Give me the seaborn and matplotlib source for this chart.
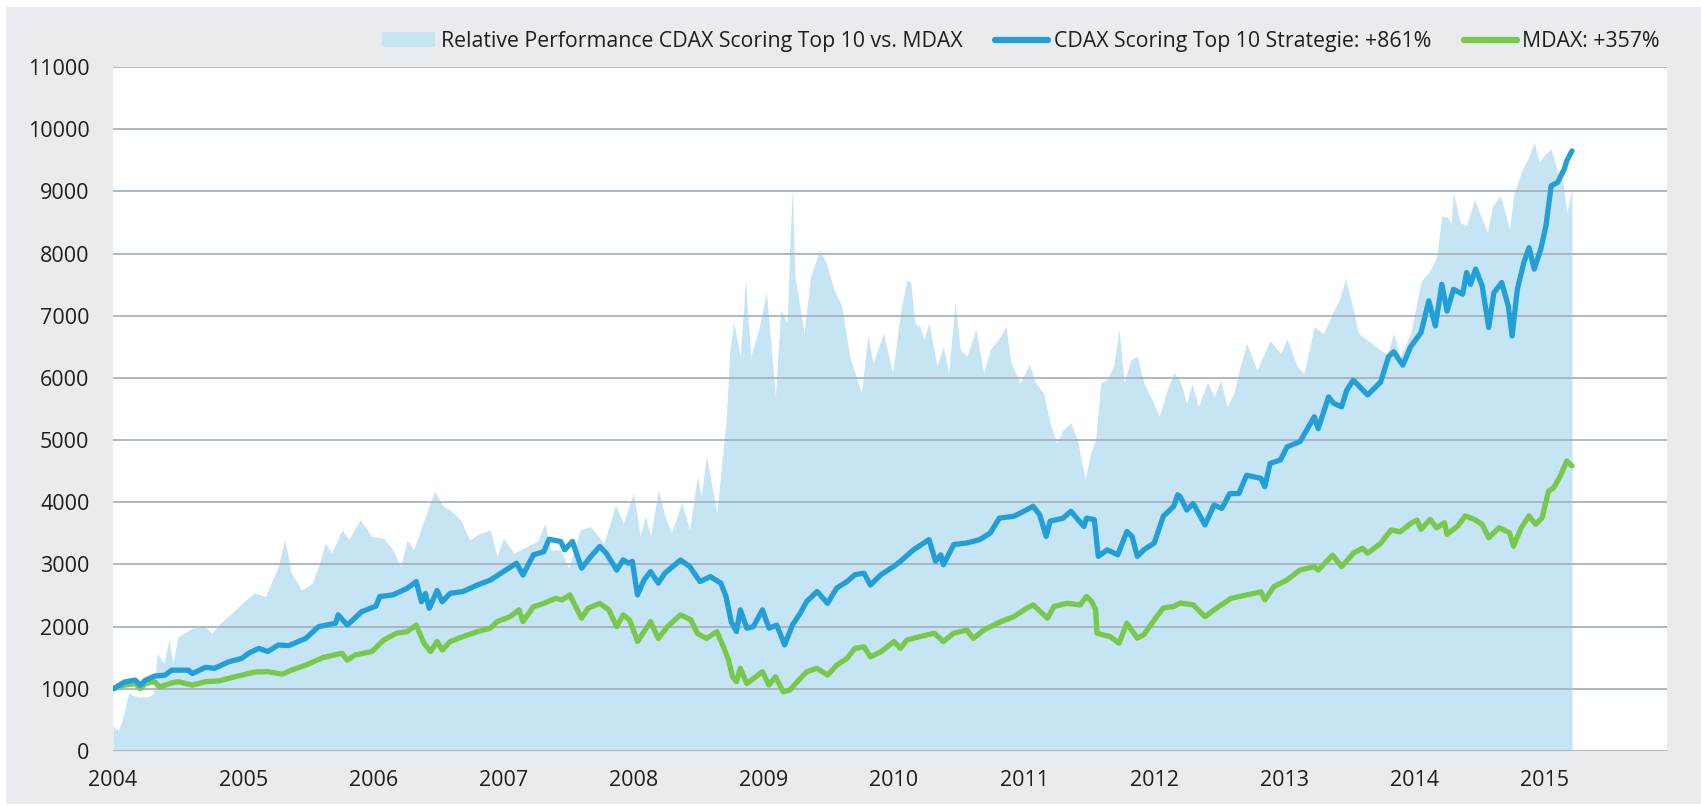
"""
CDAX Scoring Top 10 vs. MDAX - Performancechart
"""
import numpy as np
import pandas as pd
import matplotlib
matplotlib.use('Agg')
import matplotlib.pyplot as plt
from matplotlib.patches import Patch, Rectangle
from matplotlib.lines import Line2D
import seaborn as sns

rel_years = [2004.00, 2004.04, 2004.07, 2004.12, 2004.19, 2004.27, 2004.31, 2004.34, 2004.39, 2004.43,
             2004.46, 2004.50, 2004.61, 2004.71, 2004.76, 2004.81, 2004.91, 2005.02, 2005.09, 2005.17,
             2005.27, 2005.32, 2005.37, 2005.45, 2005.53, 2005.58, 2005.63, 2005.68, 2005.76, 2005.81,
             2005.90, 2005.99, 2006.08, 2006.15, 2006.21, 2006.26, 2006.31, 2006.39, 2006.47, 2006.54,
             2006.59, 2006.67, 2006.74, 2006.82, 2006.90, 2006.95, 2007.00, 2007.08, 2007.18, 2007.26,
             2007.32, 2007.36, 2007.44, 2007.50, 2007.59, 2007.67, 2007.77, 2007.82, 2007.86, 2007.92,
             2008.00, 2008.05, 2008.09, 2008.13, 2008.19, 2008.24, 2008.29, 2008.37, 2008.43, 2008.49,
             2008.52, 2008.56, 2008.64, 2008.68, 2008.71, 2008.74, 2008.77, 2008.82, 2008.86, 2008.90,
             2008.96, 2009.02, 2009.09, 2009.13, 2009.18, 2009.20, 2009.22, 2009.24, 2009.31, 2009.36,
             2009.43, 2009.48, 2009.54, 2009.60, 2009.66, 2009.75, 2009.80, 2009.84, 2009.92, 2009.99,
             2010.05, 2010.10, 2010.13, 2010.16, 2010.20, 2010.23, 2010.27, 2010.33, 2010.38, 2010.42,
             2010.47, 2010.51, 2010.56, 2010.63, 2010.69, 2010.74, 2010.82, 2010.86, 2010.90, 2010.97,
             2011.04, 2011.09, 2011.15, 2011.20, 2011.25, 2011.30, 2011.36, 2011.41, 2011.47, 2011.51,
             2011.55, 2011.59, 2011.64, 2011.69, 2011.73, 2011.77, 2011.82, 2011.87, 2011.92, 2011.97,
             2012.04, 2012.10, 2012.15, 2012.20, 2012.25, 2012.29, 2012.34, 2012.41, 2012.46, 2012.51,
             2012.56, 2012.61, 2012.66, 2012.71, 2012.79, 2012.89, 2012.97, 2013.02, 2013.10, 2013.15,
             2013.23, 2013.30, 2013.37, 2013.42, 2013.47, 2013.53, 2013.57, 2013.64, 2013.74, 2013.79,
             2013.84, 2013.89, 2013.97, 2014.05, 2014.12, 2014.17, 2014.21, 2014.25, 2014.28, 2014.30,
             2014.35, 2014.40, 2014.46, 2014.51, 2014.56, 2014.60, 2014.66, 2014.73, 2014.76, 2014.82,
             2014.87, 2014.92, 2014.96, 2014.99, 2015.05, 2015.10, 2015.14, 2015.17, 2015.21]
rel_values = [400, 330, 495, 925, 870, 870, 925, 1570, 1410, 1785,
              1410, 1840, 1975, 2000, 1890, 2025, 2215, 2430, 2540, 2485,
              2970, 3400, 2860, 2590, 2700, 2970, 3345, 3185, 3560, 3400,
              3720, 3450, 3420, 3235, 2965, 3395, 3235, 3715, 4175, 3930,
              3880, 3715, 3395, 3500, 3555, 3125, 3420, 3180, 3290, 3370,
              3665, 3235, 3235, 2940, 3555, 3610, 3340, 3665, 3960, 3665,
              4145, 3455, 3775, 3455, 4205, 3775, 3510, 3990, 3560, 4420,
              4100, 4740, 3830, 4690, 5275, 6455, 6885, 6350, 7580, 6350,
              6775, 7365, 5705, 7095, 6885, 8170, 9050, 7635, 6720, 7635,
              8060, 7845, 7420, 7150, 6350, 5760, 6670, 6240, 6720, 6080,
              7045, 7580, 7530, 6885, 6830, 6615, 6885, 6190, 6510, 6080,
              7205, 6455, 6350, 6780, 6080, 6455, 6670, 6830, 6240, 5920,
              6215, 5920, 5760, 5275, 4955, 5170, 5275, 5005, 4365, 4795,
              5005, 5920, 5975, 6215, 6780, 5920, 6295, 6350, 5920, 5705,
              5385, 5810, 6080, 5950, 5590, 5910, 5535, 5935, 5695, 5965,
              5535, 5750, 6180, 6555, 6125, 6605, 6390, 6635, 6180, 6070,
              6820, 6715, 7035, 7250, 7595, 7090, 6715, 6605, 6445, 6390,
              6715, 6340, 6715, 7550, 7730, 7945, 8605, 8590, 8500, 8980,
              8500, 8445, 8875, 8605, 8340, 8765, 8930, 8390, 8930, 9305,
              9520, 9785, 9465, 9570, 9680, 9305, 9145, 8660, 9035]

cdax_years = [2004.00, 2004.09, 2004.17, 2004.21, 2004.25, 2004.32, 2004.40, 2004.45, 2004.58, 2004.61,
              2004.71, 2004.78, 2004.89, 2004.99, 2005.04, 2005.12, 2005.19, 2005.27, 2005.35, 2005.48,
              2005.58, 2005.71, 2005.73, 2005.80, 2005.91, 2006.02, 2006.05, 2006.15, 2006.26, 2006.33,
              2006.37, 2006.40, 2006.43, 2006.49, 2006.53, 2006.59, 2006.69, 2006.80, 2006.90, 2007.00,
              2007.10, 2007.15, 2007.23, 2007.31, 2007.35, 2007.44, 2007.47, 2007.53, 2007.60, 2007.67,
              2007.74, 2007.79, 2007.87, 2007.92, 2007.96, 2007.99, 2008.03, 2008.08, 2008.13, 2008.19,
              2008.24, 2008.36, 2008.43, 2008.51, 2008.59, 2008.67, 2008.71, 2008.75, 2008.79, 2008.82,
              2008.87, 2008.92, 2008.99, 2009.04, 2009.10, 2009.16, 2009.22, 2009.28, 2009.33, 2009.41,
              2009.49, 2009.56, 2009.64, 2009.70, 2009.77, 2009.82, 2009.90, 2010.00, 2010.05, 2010.15,
              2010.27, 2010.32, 2010.36, 2010.38, 2010.46, 2010.56, 2010.66, 2010.74, 2010.81, 2010.92,
              2010.97, 2011.07, 2011.12, 2011.17, 2011.20, 2011.30, 2011.36, 2011.46, 2011.48, 2011.54,
              2011.57, 2011.64, 2011.72, 2011.79, 2011.83, 2011.87, 2011.92, 2012.00, 2012.07, 2012.15,
              2012.18, 2012.20, 2012.25, 2012.30, 2012.39, 2012.46, 2012.52, 2012.58, 2012.65, 2012.71,
              2012.82, 2012.85, 2012.89, 2012.97, 2013.02, 2013.12, 2013.23, 2013.26, 2013.34, 2013.38,
              2013.44, 2013.48, 2013.53, 2013.64, 2013.74, 2013.80, 2013.84, 2013.91, 2013.97, 2014.05,
              2014.11, 2014.16, 2014.21, 2014.25, 2014.30, 2014.37, 2014.40, 2014.43, 2014.47, 2014.52,
              2014.57, 2014.61, 2014.67, 2014.72, 2014.75, 2014.79, 2014.84, 2014.88, 2014.92, 2014.97,
              2015.01, 2015.05, 2015.10, 2015.15, 2015.17, 2015.21]
cdax_values = [1000, 1110, 1140, 1060, 1140, 1205, 1220, 1300, 1300, 1245,
               1345, 1330, 1435, 1490, 1570, 1650, 1600, 1705, 1695, 1810,
               2000, 2055, 2190, 2025, 2240, 2330, 2485, 2510, 2615, 2725,
               2400, 2535, 2295, 2580, 2400, 2535, 2565, 2670, 2750, 2885,
               3020, 2830, 3155, 3205, 3405, 3370, 3235, 3370, 2940, 3125,
               3290, 3180, 2910, 3075, 3020, 3050, 2510, 2750, 2885, 2700,
               2860, 3070, 2970, 2725, 2805, 2700, 2485, 2080, 1920, 2270,
               1975, 2000, 2270, 1975, 2025, 1705, 2025, 2215, 2405, 2565,
               2375, 2620, 2725, 2835, 2860, 2670, 2835, 2970, 3050, 3235,
               3400, 3050, 3155, 2995, 3320, 3345, 3400, 3505, 3745, 3775,
               3825, 3935, 3800, 3450, 3695, 3745, 3855, 3610, 3745, 3720,
               3130, 3235, 3155, 3530, 3450, 3130, 3235, 3345, 3775, 3935,
               4120, 4090, 3875, 3980, 3635, 3955, 3900, 4140, 4140, 4435,
               4385, 4250, 4625, 4680, 4890, 4975, 5375, 5185, 5695, 5590,
               5535, 5805, 5965, 5725, 5935, 6340, 6420, 6205, 6500, 6730,
               7240, 6835, 7505, 7075, 7425, 7345, 7695, 7505, 7750, 7480,
               6810, 7370, 7535, 7160, 6675, 7425, 7855, 8095, 7750, 8070,
               8445, 9090, 9145, 9355, 9490, 9650]

mdax_years = [2004.00, 2004.09, 2004.17, 2004.21, 2004.25, 2004.32, 2004.36, 2004.45, 2004.50, 2004.61,
              2004.71, 2004.81, 2004.96, 2005.09, 2005.19, 2005.30, 2005.37, 2005.48, 2005.61, 2005.73,
              2005.76, 2005.80, 2005.86, 2005.99, 2006.08, 2006.18, 2006.26, 2006.33, 2006.39, 2006.44,
              2006.49, 2006.53, 2006.59, 2006.69, 2006.80, 2006.90, 2006.95, 2007.05, 2007.12, 2007.15,
              2007.23, 2007.31, 2007.40, 2007.45, 2007.51, 2007.60, 2007.65, 2007.74, 2007.81, 2007.87,
              2007.92, 2007.97, 2008.03, 2008.13, 2008.19, 2008.26, 2008.36, 2008.44, 2008.49, 2008.56,
              2008.64, 2008.69, 2008.73, 2008.76, 2008.79, 2008.82, 2008.87, 2008.92, 2008.99, 2009.04,
              2009.09, 2009.15, 2009.20, 2009.28, 2009.33, 2009.41, 2009.49, 2009.56, 2009.64, 2009.70,
              2009.77, 2009.82, 2009.90, 2010.00, 2010.05, 2010.10, 2010.20, 2010.31, 2010.38, 2010.46,
              2010.56, 2010.61, 2010.69, 2010.82, 2010.92, 2011.02, 2011.07, 2011.18, 2011.23, 2011.33,
              2011.43, 2011.48, 2011.52, 2011.55, 2011.56, 2011.66, 2011.73, 2011.79, 2011.87, 2011.92,
              2012.02, 2012.07, 2012.15, 2012.20, 2012.30, 2012.39, 2012.46, 2012.59, 2012.71, 2012.82,
              2012.85, 2012.92, 2013.02, 2013.12, 2013.23, 2013.26, 2013.37, 2013.44, 2013.53, 2013.60,
              2013.64, 2013.74, 2013.82, 2013.89, 2013.97, 2014.02, 2014.05, 2014.12, 2014.17, 2014.23,
              2014.25, 2014.33, 2014.39, 2014.46, 2014.52, 2014.57, 2014.65, 2014.73, 2014.76, 2014.82,
              2014.88, 2014.93, 2014.98, 2015.03, 2015.07, 2015.12, 2015.17, 2015.21]
mdax_values = [1000, 1060, 1085, 1005, 1085, 1115, 1030, 1095, 1115, 1060,
               1115, 1125, 1205, 1270, 1275, 1235, 1300, 1380, 1500, 1560,
               1570, 1460, 1545, 1600, 1785, 1895, 1920, 2025, 1730, 1600,
               1760, 1625, 1760, 1840, 1920, 1975, 2080, 2160, 2270, 2080,
               2320, 2375, 2455, 2430, 2510, 2135, 2295, 2375, 2270, 2000,
               2190, 2105, 1760, 2080, 1810, 2000, 2190, 2110, 1890, 1810,
               1920, 1675, 1460, 1195, 1115, 1330, 1085, 1165, 1275, 1060,
               1195, 950, 980, 1165, 1275, 1330, 1220, 1380, 1490, 1650,
               1675, 1515, 1595, 1760, 1650, 1785, 1840, 1895, 1760, 1895,
               1945, 1810, 1945, 2080, 2160, 2295, 2350, 2135, 2325, 2375,
               2350, 2485, 2405, 2270, 1895, 1840, 1735, 2055, 1815, 1870,
               2165, 2300, 2325, 2380, 2350, 2160, 2270, 2455, 2510, 2560,
               2430, 2645, 2750, 2910, 2965, 2910, 3150, 2965, 3180, 3260,
               3180, 3340, 3555, 3525, 3660, 3715, 3565, 3725, 3590, 3670,
               3485, 3615, 3780, 3725, 3645, 3430, 3590, 3510, 3295, 3590,
               3780, 3645, 3750, 4180, 4235, 4420, 4665, 4585]

year_ticks = list(range(2004, 2016))
y_ticks = list(range(0, 11001, 1000))

label_rel = 'Relative Performance CDAX Scoring Top 10 vs. MDAX'
label_cdax = 'CDAX Scoring Top 10 Strategie: +861%'
label_mdax = 'MDAX: +357%'

# Farben
c_area = '#c6e5f4'
c_blue = '#229fd9'
c_green = '#77c84b'
c_grid = '#a7b3be'
c_bg = '#e9ebee'
c_text = '#1e1e1e'

sns.set_theme(style='white')
plt.rcParams['font.family'] = ['Open Sans', 'DejaVu Sans']

fig = plt.figure(figsize=(17.01, 8.06), dpi=100)
fig.patches.append(Rectangle((6 / 1701, 2 / 806), 1, 1 - 9 / 806,
                             transform=fig.transFigure, facecolor=c_bg,
                             edgecolor='none', zorder=-10))
ax = fig.add_axes([113 / 1701, 55 / 806, (1667 - 113) / 1701, (751 - 67) / 806])
ax.set_facecolor('white')

# Flaeche: relative Performance
ax.fill_between(rel_years, rel_values, 0, color=c_area, lw=0, zorder=1)

df_cdax = pd.DataFrame({'year': cdax_years, 'value': cdax_values})
df_mdax = pd.DataFrame({'year': mdax_years, 'value': mdax_values})
sns.lineplot(data=df_mdax, x='year', y='value', color=c_green, lw=3.8,
             sort=False, estimator=None, ax=ax, zorder=3,
             solid_capstyle='round', solid_joinstyle='round')
sns.lineplot(data=df_cdax, x='year', y='value', color=c_blue, lw=3.8,
             sort=False, estimator=None, ax=ax, zorder=4,
             solid_capstyle='round', solid_joinstyle='round')

ax.set_xlim(2004, 2015.94)
ax.set_ylim(0, 11000)
ax.set_xticks(year_ticks)
ax.set_xticklabels([str(y) for y in year_ticks])
ax.set_yticks(y_ticks)
ax.set_xlabel('')
ax.set_ylabel('')
ax.tick_params(axis='both', length=0, labelsize=15.5, colors=c_text)
ax.tick_params(axis='y', pad=17)
ax.tick_params(axis='x', pad=14)

ax.grid(False)
ax.yaxis.grid(True, color=c_grid, lw=1.3, zorder=2)
ax.set_axisbelow(False)
for s in ax.spines.values():
    s.set_visible(False)

handles = [Patch(facecolor=c_area, edgecolor='none'),
           Line2D([0], [0], color=c_blue, lw=4.5),
           Line2D([0], [0], color=c_green, lw=4.5)]
leg = ax.legend(handles, [label_rel, label_cdax, label_mdax], loc='lower right',
                bbox_to_anchor=(1.005, 1.0), ncol=3, frameon=False, fontsize=15.3,
                handlelength=2.5, handletextpad=0.25, columnspacing=1.55,
                borderaxespad=0.3)
for t in leg.get_texts():
    t.set_color(c_text)

fig.savefig('out.png', dpi=100)
